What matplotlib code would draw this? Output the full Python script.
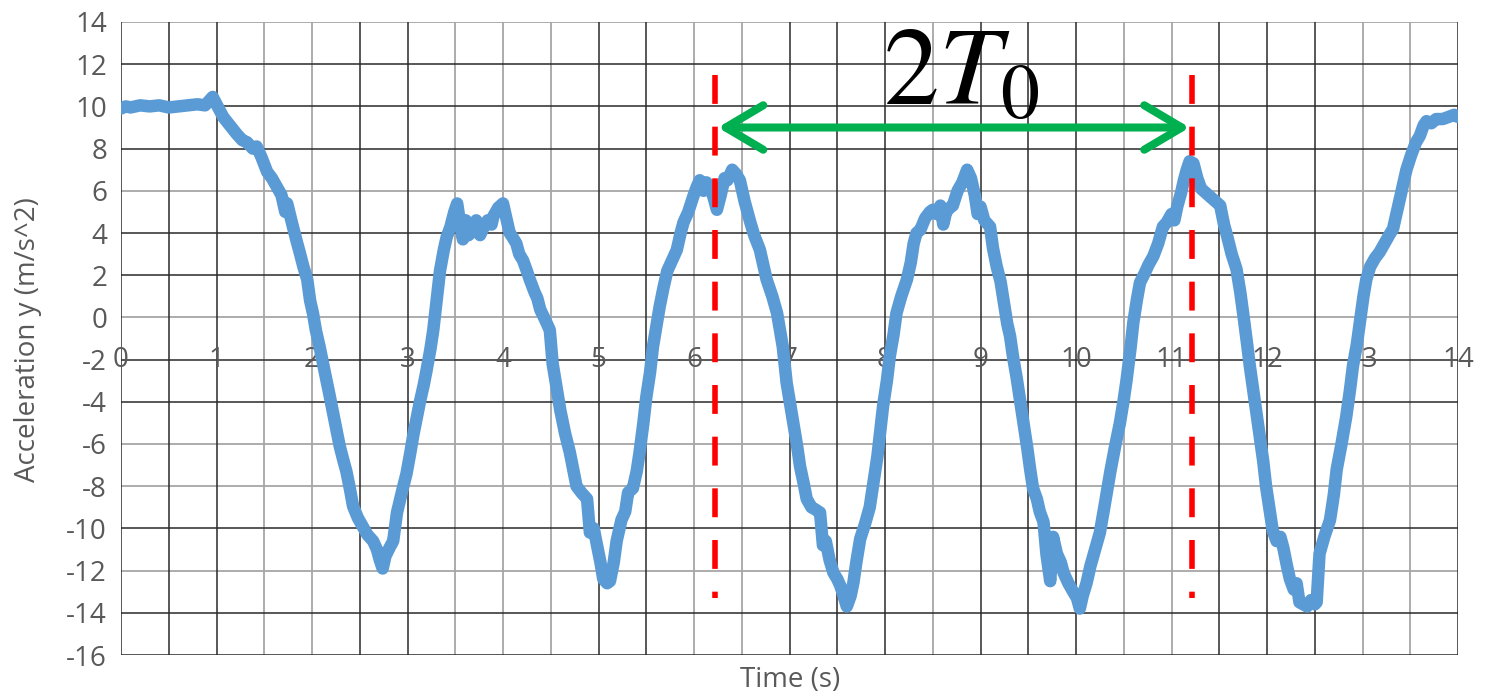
import matplotlib
matplotlib.use("Agg")
import matplotlib.pyplot as plt
from matplotlib.patches import FancyArrowPatch

plt.rcParams["mathtext.fontset"] = "stix"

# Measured vertical acceleration of the pendulum
time_s = [
    0.00, 0.05, 0.10, 0.20, 0.30, 0.40, 0.50, 0.60, 0.70, 0.80, 0.88, 0.93, 0.96, 1.00,
    1.07, 1.14, 1.21, 1.27, 1.32, 1.38, 1.42, 1.47, 1.53, 1.58, 1.63, 1.68, 1.72, 1.74,
    1.80, 1.84, 1.87, 1.91, 1.95, 1.98, 2.01, 2.04, 2.08, 2.12, 2.15, 2.18, 2.22, 2.26,
    2.29, 2.33, 2.36, 2.40, 2.43, 2.48, 2.53, 2.58, 2.64, 2.68, 2.71, 2.74, 2.77, 2.82,
    2.85, 2.89, 2.94, 2.99, 3.03, 3.06, 3.10, 3.13, 3.17, 3.20, 3.24, 3.27, 3.30, 3.34,
    3.38, 3.41, 3.45, 3.49, 3.52, 3.55, 3.58, 3.61, 3.64, 3.69, 3.72, 3.76, 3.79, 3.84,
    3.88, 3.90, 3.95, 4.00, 4.03, 4.07, 4.10, 4.14, 4.17, 4.21, 4.25, 4.28, 4.33, 4.36,
    4.39, 4.44, 4.49, 4.52, 4.56, 4.60, 4.65, 4.70, 4.74, 4.77, 4.82, 4.88, 4.91, 4.95,
    4.98, 5.02, 5.05, 5.09, 5.12, 5.16, 5.19, 5.24, 5.28, 5.31, 5.36, 5.40, 5.43, 5.47,
    5.50, 5.54, 5.57, 5.61, 5.64, 5.68, 5.72, 5.77, 5.82, 5.86, 5.89, 5.94, 5.99, 6.03,
    6.06, 6.10, 6.13, 6.17, 6.21, 6.24, 6.28, 6.32, 6.35, 6.40, 6.44, 6.48, 6.53, 6.59,
    6.63, 6.69, 6.73, 6.76, 6.82, 6.87, 6.90, 6.93, 6.97, 7.01, 7.04, 7.08, 7.11, 7.15,
    7.18, 7.23, 7.27, 7.32, 7.35, 7.38, 7.42, 7.46, 7.50, 7.53, 7.56, 7.60, 7.64, 7.67,
    7.70, 7.74, 7.79, 7.84, 7.88, 7.92, 7.95, 7.98, 8.02, 8.05, 8.09, 8.12, 8.17, 8.23,
    8.27, 8.30, 8.33, 8.37, 8.42, 8.47, 8.50, 8.54, 8.58, 8.61, 8.64, 8.68, 8.71, 8.76,
    8.81, 8.86, 8.90, 8.94, 8.97, 9.00, 9.04, 9.08, 9.10, 9.13, 9.17, 9.21, 9.24, 9.28,
    9.31, 9.34, 9.38, 9.42, 9.45, 9.49, 9.52, 9.55, 9.59, 9.62, 9.66, 9.69, 9.73, 9.76,
    9.80, 9.84, 9.87, 9.92, 9.97, 10.01, 10.04, 10.07, 10.11, 10.15, 10.20, 10.25, 10.30,
    10.36, 10.41, 10.46, 10.50, 10.53, 10.57, 10.60, 10.64, 10.67, 10.72, 10.76, 10.81,
    10.86, 10.91, 10.95, 11.00, 11.03, 11.06, 11.10, 11.13, 11.16, 11.19, 11.23, 11.27,
    11.31, 11.36, 11.41, 11.46, 11.51, 11.55, 11.58, 11.63, 11.68, 11.72, 11.75, 11.79,
    11.82, 11.87, 11.92, 11.96, 11.99, 12.03, 12.06, 12.10, 12.14, 12.17, 12.21, 12.24,
    12.28, 12.31, 12.34, 12.38, 12.42, 12.46, 12.50, 12.52, 12.55, 12.60, 12.66, 12.70,
    12.73, 12.78, 12.83, 12.87, 12.90, 12.94, 12.97, 13.01, 13.04, 13.08, 13.13, 13.18,
    13.23, 13.28, 13.32, 13.37, 13.42, 13.46, 13.51, 13.56, 13.60, 13.64, 13.67, 13.72,
    13.77, 13.84, 13.90, 13.96, 14.00,
]

accel_y = [
    9.9, 10.0, 9.95, 10.05, 10.0, 10.05, 9.95, 10.0, 10.05, 10.1, 10.05, 10.3, 10.45, 10.1,
    9.5, 9.1, 8.7, 8.4, 8.3, 8.0, 8.1, 7.6, 6.9, 6.6, 6.2, 5.8, 5.0, 5.4,
    4.3, 3.6, 3.1, 2.4, 1.8, 0.8, 0.2, -0.6, -1.4, -2.3, -2.95, -3.6, -4.5, -5.4,
    -6.1, -6.8, -7.3, -8.2, -8.95, -9.5, -9.9, -10.3, -10.6, -11.0, -11.5, -11.9, -11.3, -10.85,
    -10.6, -9.25, -8.3, -7.4, -6.4, -5.6, -4.7, -4.0, -3.2, -2.5, -1.5, -0.6, 0.6, 2.2,
    3.2, 3.8, 4.3, 5.0, 5.4, 4.5, 3.7, 4.6, 3.9, 4.15, 4.6, 3.9, 4.2, 4.6,
    4.4, 4.8, 5.2, 5.4, 4.8, 4.0, 3.8, 3.5, 3.0, 2.7, 2.2, 1.8, 1.2, 0.9,
    0.37, -0.1, -0.6, -2.2, -3.3, -4.4, -5.5, -6.4, -7.3, -8.0, -8.3, -8.6, -10.2, -10.0,
    -10.7, -11.6, -12.4, -12.6, -12.5, -11.6, -10.6, -9.6, -9.2, -8.3, -8.1, -7.3, -6.4, -5.0,
    -3.8, -2.6, -1.4, -0.3, 0.5, 1.4, 2.2, 2.7, 3.2, 4.0, 4.5, 5.0, 5.7, 6.2,
    6.5, 6.0, 6.4, 6.2, 5.6, 5.1, 5.8, 6.6, 6.5, 7.0, 6.8, 6.5, 5.5, 4.5,
    3.9, 3.2, 2.4, 1.8, 1.0, 0.2, -0.6, -1.4, -3.1, -4.2, -5.0, -6.1, -7.05, -7.9,
    -8.6, -9.0, -9.1, -9.25, -10.8, -10.6, -11.5, -12.1, -12.4, -12.7, -13.1, -13.7, -13.2, -12.55,
    -11.6, -10.5, -9.8, -9.0, -7.8, -6.6, -5.4, -4.2, -3.0, -1.85, -0.8, 0.2, 1.0, 1.8,
    2.6, 3.5, 4.0, 4.15, 4.7, 5.0, 5.1, 4.9, 5.3, 4.4, 5.0, 5.2, 5.3, 6.0,
    6.4, 7.0, 6.6, 5.8, 4.9, 5.25, 4.6, 4.4, 4.3, 3.3, 2.4, 1.7, 0.84, -0.3,
    -0.9, -1.85, -2.9, -4.1, -5.0, -6.2, -7.2, -8.1, -8.6, -9.2, -9.7, -11.2, -12.5, -10.4,
    -11.2, -11.6, -12.1, -12.6, -13.0, -13.3, -13.8, -13.2, -12.6, -11.8, -11.0, -10.2, -8.9,
    -7.3, -6.1, -5.0, -3.9, -2.95, -1.5, -0.25, 0.9, 1.65, 2.1, 2.5, 2.9,
    3.5, 4.3, 4.5, 4.9, 4.6, 5.25, 5.9, 6.5, 7.0, 7.4, 7.3, 6.6,
    6.1, 5.9, 5.7, 5.5, 5.3, 4.4, 3.9, 3.0, 2.3, 1.2, 0.2, -1.2,
    -2.3, -3.9, -5.5, -6.8, -8.0, -9.2, -10.1, -10.6, -10.4, -10.9, -11.8, -12.4,
    -12.9, -12.6, -13.5, -13.6, -13.7, -13.4, -13.6, -13.5, -11.2, -10.4, -9.6, -8.4,
    -7.2, -6.0, -4.7, -3.4, -2.3, -1.3, -0.3, 1.0, 1.8, 2.4, 2.8, 3.1,
    3.5, 3.9, 4.2, 5.2, 6.2, 7.0, 7.7, 8.3, 8.6, 9.1, 9.3, 9.2,
    9.4, 9.4, 9.5, 9.6, 9.5,
]

x_ticks = list(range(0, 15))
y_ticks = list(range(-16, 15, 2))

# Two-period marker: times of the two peaks and the label
period_marks = [6.22, 11.21]
marker_span = [11.5, -13.3]
arrow_ends = [6.25, 11.19]
arrow_level = 9.0
period_label = r"$2T_0$"

x_label = "Time (s)"
y_label = "Acceleration y (m/s^2)"

# Gridline shading (dark / light) as in the spreadsheet export
vgrid_dark = [0, 0.5, 1, 2.5, 3, 5, 5.5, 7, 7.5, 8, 9, 9.5, 10, 11.5, 12, 12.5, 14]
vgrid_light = [1.5, 2, 3.5, 4, 4.5, 6, 6.5, 8.5, 10.5, 11, 13, 13.5]
hgrid_dark = [12, 10, 8, 4, 2, -2, -4, -10, -14, -16]
hgrid_light = [14, 6, 0, -6, -8, -12]

DARK = "#2a2a2a"
LIGHT = "#a6a6a6"
TEXT = "#595959"
FONT = ["Open Sans", "DejaVu Sans"]

fig = plt.figure(figsize=(14.91, 7.0), dpi=100, facecolor="white")
ax = fig.add_axes([121 / 1491, 1 - 655 / 700, (1458 - 121) / 1491, (655 - 22) / 700])
ax.set_xlim(0, 14)
ax.set_ylim(-16, 14)
for s in ax.spines.values():
    s.set_visible(False)

for xv in vgrid_light:
    ax.axvline(xv, color=LIGHT, lw=1.3, zorder=1)
for yv in hgrid_light:
    ax.axhline(yv, color=LIGHT, lw=1.3, zorder=1)
for xv in vgrid_dark:
    ax.axvline(xv, color=DARK, lw=1.1, zorder=1.1)
for yv in hgrid_dark:
    ax.axhline(yv, color=DARK, lw=1.1, zorder=1.1)

# y ticks
ax.set_yticks(y_ticks)
ax.set_yticklabels([str(v) for v in y_ticks], family=FONT, fontsize=20, color=TEXT)
ax.tick_params(axis="y", length=0, pad=10)
ax.set_xticks([])

# x tick labels sit on the y = -2 row
for xv in x_ticks:
    ax.text(xv, -2, str(xv), ha="center", va="center", family=FONT,
            fontsize=20, color=TEXT, zorder=2)

# data trace
ax.plot(time_s, accel_y, color="#5B9BD5", lw=9, solid_capstyle="round",
        solid_joinstyle="round", zorder=3)

# period markers
for xm in period_marks:
    ax.plot([xm, xm], marker_span, color="#FF0000", lw=4,
            linestyle=(0, (5.2, 4.1)), dash_capstyle="butt", zorder=4)

arrow = FancyArrowPatch((arrow_ends[0], arrow_level), (arrow_ends[1], arrow_level),
                        arrowstyle="<->,head_length=27,head_width=16",
                        mutation_scale=1, shrinkA=0, shrinkB=0,
                        color="#00B050", lw=5.8, capstyle="round", joinstyle="round",
                        zorder=5)
ax.add_patch(arrow)

ax.text(7.98, 10.1, period_label, fontsize=80, color="black", ha="left",
        va="baseline", zorder=6)

# axis titles
fig.text(28 / 1491, 1 - 340 / 700, y_label, rotation=90, ha="center", va="center",
         family=FONT, fontsize=20, color=TEXT)
fig.text(790 / 1491, 1 - 680 / 700, x_label, ha="center", va="center",
         family=FONT, fontsize=20, color=TEXT)

fig.savefig("out.png", dpi=100, facecolor="white")
